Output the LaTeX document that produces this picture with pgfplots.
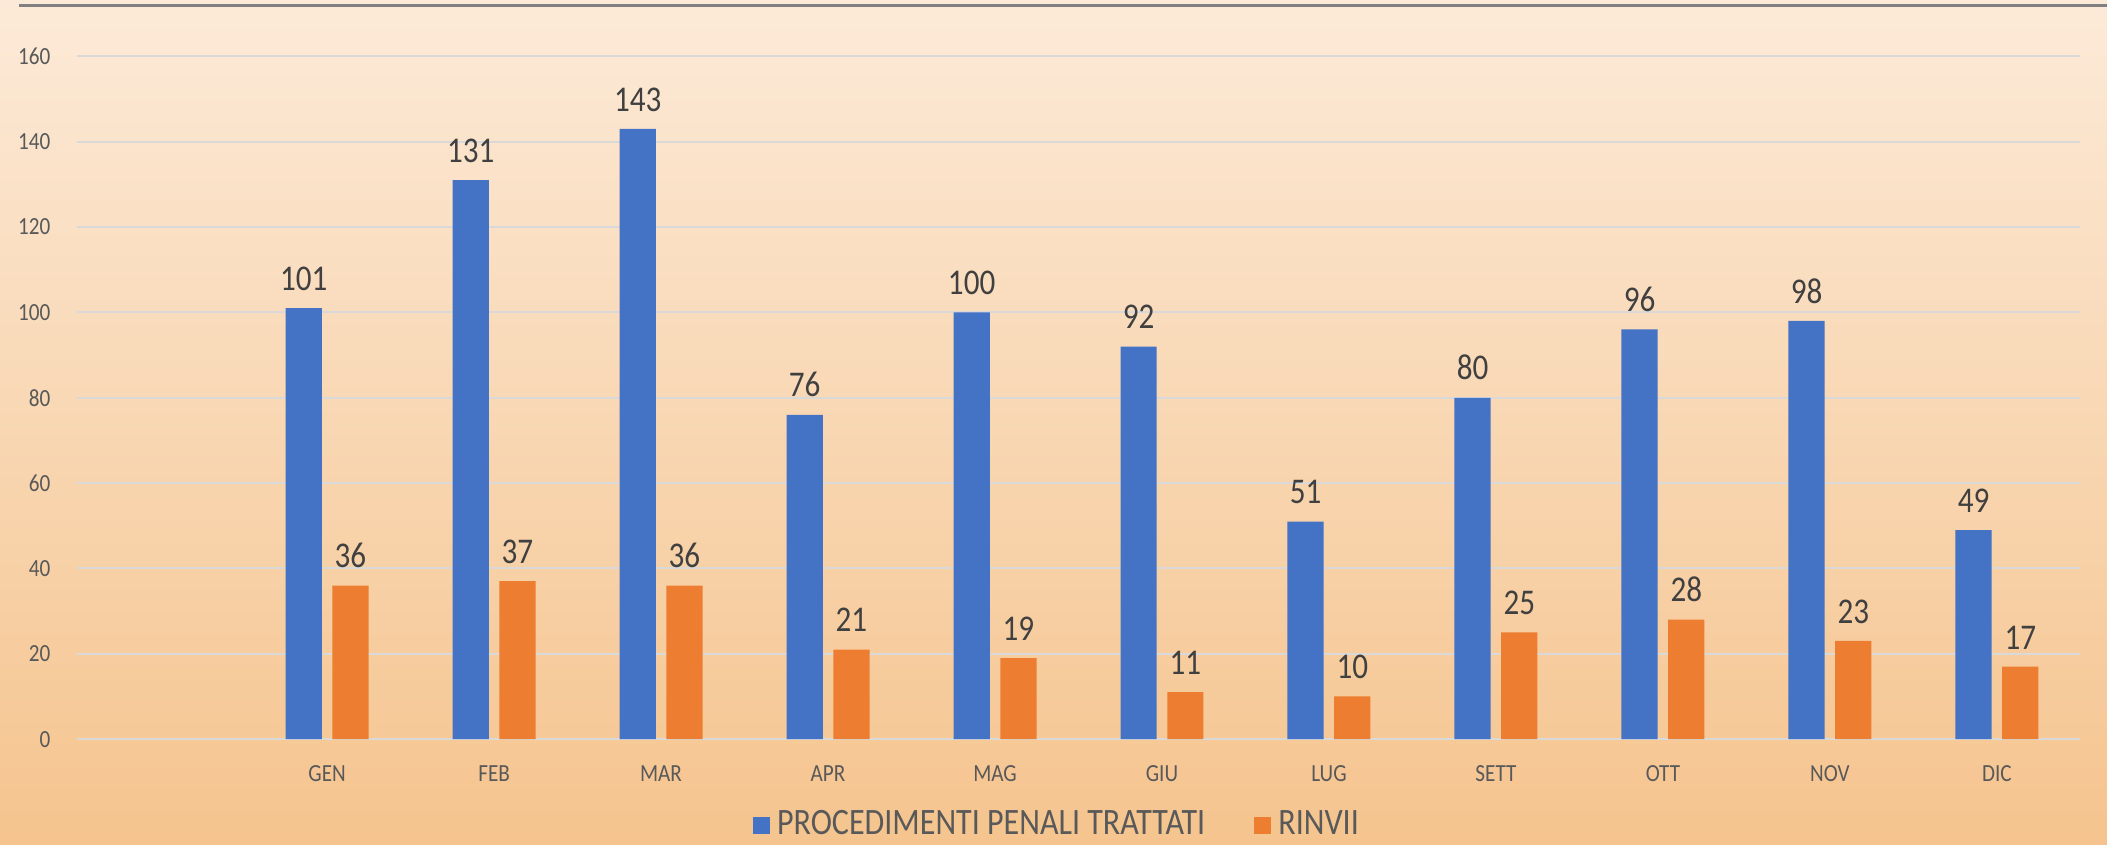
\documentclass[border=0pt]{standalone}
\usepackage{pgfplots}
\pgfplotsset{compat=1.18}
\usepackage{fontspec}
\setmainfont[FakeStretch=0.86]{Carlito}

\definecolor{bgtop}{RGB}{252,234,216}
\definecolor{bgbottom}{RGB}{245,196,142}
\definecolor{barblue}{RGB}{68,114,196}
\definecolor{barorange}{RGB}{237,125,49}
\definecolor{gridgray}{RGB}{217,217,217}
\definecolor{ticktext}{RGB}{89,89,89}
\definecolor{labeltext}{RGB}{64,64,64}
\definecolor{topline}{RGB}{128,128,128}

\begin{document}
\begin{tikzpicture}
% background of the whole chart
\shade[top color=bgtop, bottom color=bgbottom] (-0.766cm,-1.05cm) rectangle (20.30cm,7.39cm);
\draw[topline, line width=0.8pt] (-0.576cm,7.336cm) -- (20.30cm,7.336cm);

\begin{axis}[
at={(0,0)}, anchor=south west,
scale only axis,
width=20.034cm, height=6.826cm,
xmin=-0.5, xmax=11.5,
ymin=0, ymax=160,
ytick={0,20,...,160},
xtick={1,...,11},
xticklabels={GEN,FEB,MAR,APR,MAG,GIU,LUG,SETT,OTT,NOV,DIC},
axis line style={draw=none},
major tick length=0pt,
ymajorgrids,
grid style={gridgray, line width=0.6pt},
/pgf/number format/assume math mode=true,
tick label style={font=\fontsize{7}{8}\selectfont, text=ticktext, inner sep=0pt},
yticklabel style={anchor=east, xshift=-7.3pt},
xticklabel style={anchor=north, yshift=-7.4pt},
ybar, bar width=0.217,
clip=false,
nodes near coords,
every node near coord/.append style={font=\fontsize{10.3}{12}\selectfont, text=labeltext, inner sep=0pt, anchor=south, yshift=4.8pt},
legend columns=2,
legend style={at={(0.4905,-0.126)}, anchor=center, draw=none, fill=none,
  font=\fontsize{10.6}{12}\selectfont, text=ticktext, inner sep=0pt,
  /tikz/every even column/.append style={column sep=0.42cm}},
legend image code/.code={\fill[#1] (0cm,-0.085cm) rectangle (0.17cm,0.085cm);},
]
\addplot[fill=barblue, draw=none, bar shift=-0.14] coordinates {
(1,101) (2,131) (3,143) (4,76) (5,100) (6,92) (7,51) (8,80) (9,96) (10,98) (11,49)};
\addlegendentry{PROCEDIMENTI PENALI TRATTATI}
\addplot[fill=barorange, draw=none, bar shift=0.14] coordinates {
(1,36) (2,37) (3,36) (4,21) (5,19) (6,11) (7,10) (8,25) (9,28) (10,23) (11,17)};
\addlegendentry{RINVII}
\end{axis}
\pgfresetboundingbox
\path (-0.766cm,-1.05cm) rectangle (20.30cm,7.39cm);
\end{tikzpicture}
\end{document}
